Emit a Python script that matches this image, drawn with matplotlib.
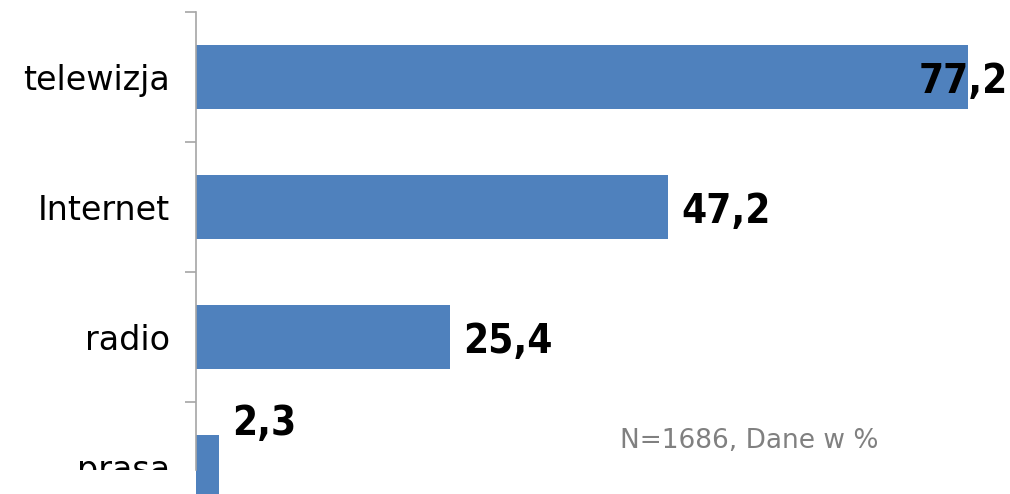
import matplotlib
matplotlib.use("Agg")
import matplotlib.pyplot as plt
from matplotlib.transforms import Bbox, TransformedBbox

categories = ["telewizja", "Internet", "radio", "prasa"]
values = [77.2, 47.2, 25.4, 2.3]
value_labels = ["77,2", "47,2", "25,4", "2,3"]
note = "N=1686, Dane w %"

plt.rcParams['font.family'] = ['DejaVu Sans']

W, H = 1010, 494
fig = plt.figure(figsize=(W / 100, H / 100), dpi=100)
ax = fig.add_axes([196 / W, 1 - 470 / H, 800 / W, 458 / H])

pos = list(range(len(categories)))
bars = ax.barh(pos, values, height=0.487, color="#4F81BD", clip_on=False)

ax.set_xlim(0, 80)
ax.set_ylim(-0.5 + 458 / 130, -0.5)

for s in ["top", "right", "bottom"]:
    ax.spines[s].set_visible(False)
ax.spines["left"].set_color("#A6A6A6")
ax.spines["left"].set_linewidth(1.2)
ax.set_xticks([])

bounds = [p - 0.5 for p in pos]
ax.set_yticks(bounds)
ax.set_yticklabels([""] * len(bounds))
ax.tick_params(axis="y", which="major", length=7.9, width=1.2, color="#A6A6A6")
ax.set_yticks(pos, minor=True)
ax.set_yticklabels(categories, minor=True, fontsize=24)
ax.tick_params(axis="y", which="minor", length=0, pad=18.5)

clipbox = TransformedBbox(Bbox([[0, 1 - 470 / H], [1, 1]]), fig.transFigure)
for lbl in ax.get_yticklabels(minor=True):
    lbl.set_clip_on(True)
    lbl.set_clip_box(clipbox)

offsets = [(28.5, 0, "right"), (9.5, 0, "left"), (9.5, 0, "left"), (9.5, 34, "left")]
for i, (v, t) in enumerate(zip(values, value_labels)):
    dx, dy, ha = offsets[i]
    ax.annotate(t, xy=(v, i), xytext=(dx, dy), textcoords="offset points",
                ha=ha, va="center_baseline", fontsize=29, fontweight="bold",
                fontstretch="condensed",
                color="black", annotation_clip=False)

fig.text(620 / W, 1 - 448 / H, note, fontsize=19, color="#808080",
         ha="left", va="baseline")

fig.savefig("out.png", dpi=100)
